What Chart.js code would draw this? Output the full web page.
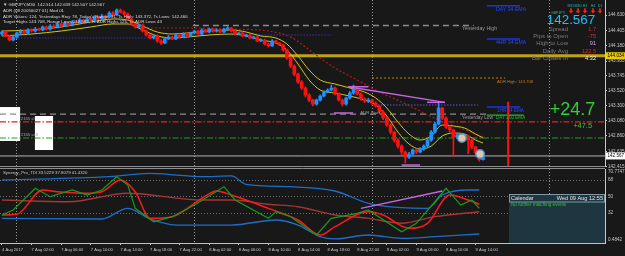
<!DOCTYPE html>
<html><head><meta charset="utf-8">
<script src="https://cdn.jsdelivr.net/npm/chart.js@4.4.0/dist/chart.umd.min.js"></script>
<style>
html,body{margin:0;padding:0;background:#181818;width:625px;height:256px;overflow:hidden}
#c1{position:absolute;left:0;top:0}
#c2{position:absolute;left:0;top:166px}
</style></head><body>
<canvas id="c1" width="625" height="172"></canvas>
<canvas id="c2" width="625" height="90"></canvas>
<script>
// ---------------- DATA ----------------
const timeLabels = ['4 Aug 2017','7 Aug 02:00','7 Aug 06:00','7 Aug 10:00','7 Aug 14:00','7 Aug 18:00','7 Aug 22:00','8 Aug 02:00','8 Aug 06:00','8 Aug 10:00','8 Aug 14:00','8 Aug 18:00','8 Aug 22:00','9 Aug 02:00','9 Aug 06:00','9 Aug 10:00','9 Aug 14:00'];
const timeLabelBars = [0,8,16,24,32,40,48,56,64,72,80,88,96,104,112,120,128];
const daySeparatorBars = [4,52,100,148];
const priceTicks = [144.630,144.405,144.180,143.955,143.745,143.520,143.300,143.080,142.860,142.635,142.415];

const opens = [144.352,144.381,144.323,144.264,144.308,144.367,144.396,144.367,144.411,144.396,
 144.425,144.411,144.455,144.425,144.469,144.455,144.499,144.469,144.513,144.484,
 144.528,144.513,144.557,144.528,144.572,144.557,144.601,144.572,144.616,144.601,
 144.660,144.630,144.704,144.674,144.645,144.572,144.499,144.455,144.484,144.396,
 144.338,144.294,144.323,144.250,144.220,144.279,144.308,144.279,144.338,144.308,
 144.352,144.323,144.367,144.396,144.352,144.411,144.381,144.425,144.396,144.411,
 144.381,144.425,144.440,144.396,144.352,144.367,144.323,144.338,144.294,144.308,
 144.250,144.264,144.206,144.177,144.250,144.220,144.191,144.118,144.001,143.884,
 143.767,143.649,143.562,143.459,143.386,143.327,143.386,143.444,143.503,143.532,
 143.562,143.474,143.386,143.327,143.415,143.488,143.547,143.474,143.401,143.371,
 143.386,143.342,143.298,143.210,143.122,143.020,142.917,142.800,142.712,142.625,
 142.551,142.595,142.654,142.625,142.668,142.712,142.800,142.917,143.034,143.269,
 143.122,142.991,142.947,142.844,142.873,142.830,142.859,142.800,142.698,142.610,
 142.514];
const highs = [144.40,144.40,144.34,144.33,144.38,144.42,144.41,144.43,144.43,144.45,
 144.44,144.47,144.47,144.49,144.49,144.52,144.51,144.53,144.53,144.55,
 144.55,144.58,144.57,144.59,144.59,144.62,144.61,144.64,144.63,144.68,
 144.68,144.72,144.72,144.69,144.66,144.59,144.51,144.50,144.50,144.41,
 144.35,144.34,144.34,144.27,144.30,144.33,144.32,144.35,144.35,144.37,
 144.37,144.38,144.41,144.41,144.43,144.42,144.44,144.44,144.43,144.42,
 144.44,144.46,144.45,144.41,144.38,144.38,144.35,144.35,144.32,144.32,
 144.28,144.28,144.22,144.27,144.26,144.23,144.20,144.13,144.02,143.90,
 143.78,143.67,143.58,143.48,143.40,143.40,143.46,143.52,143.55,143.606,
 143.58,143.49,143.40,143.43,143.51,143.606,143.56,143.49,143.42,143.41,
 143.40,143.36,143.31,143.23,143.14,143.04,142.93,142.82,142.73,142.64,
 142.62,142.67,142.67,142.69,142.73,142.82,142.94,143.06,143.357,143.28,
 143.14,143.01,142.96,142.89,142.89,142.88,142.87,142.82,142.71,142.63,
 142.639];
const lows = [144.33,144.31,144.25,144.25,144.29,144.35,144.35,144.35,144.38,144.38,
 144.40,144.40,144.41,144.41,144.44,144.44,144.45,144.46,144.47,144.47,
 144.50,144.50,144.51,144.52,144.54,144.54,144.56,144.56,144.58,144.59,
 144.61,144.62,144.66,144.63,144.56,144.48,144.44,144.44,144.38,144.32,
 144.28,144.28,144.23,144.20,144.21,144.27,144.27,144.27,144.29,144.30,
 144.31,144.31,144.35,144.34,144.34,144.37,144.37,144.38,144.38,144.37,
 144.37,144.41,144.38,144.34,144.34,144.31,144.31,144.28,144.28,144.24,
 144.24,144.19,144.16,144.17,144.21,144.18,144.10,143.98,143.86,143.74,
 143.63,143.54,143.43,143.36,143.30,143.31,143.37,143.43,143.49,143.52,
 143.46,143.37,143.30,143.31,143.40,143.47,143.46,143.38,143.35,143.35,
 143.32,143.28,143.19,143.10,143.00,142.89,142.77,142.68,142.58,142.463,
 142.53,142.58,142.60,142.61,142.65,142.70,142.78,142.90,143.02,143.10,
 142.97,142.92,142.56,142.82,142.80,142.81,142.60,142.67,142.59,142.49,
 142.507];
const closes = [144.381,144.323,144.264,144.308,144.367,144.396,144.367,144.411,144.396,144.425,
 144.411,144.455,144.425,144.469,144.455,144.499,144.469,144.513,144.484,144.528,
 144.513,144.557,144.528,144.572,144.557,144.601,144.572,144.616,144.601,144.660,
 144.630,144.704,144.674,144.645,144.572,144.499,144.455,144.484,144.396,144.338,
 144.294,144.323,144.250,144.220,144.279,144.308,144.279,144.338,144.308,144.352,
 144.323,144.367,144.396,144.352,144.411,144.381,144.425,144.396,144.411,144.381,
 144.425,144.440,144.396,144.352,144.367,144.323,144.338,144.294,144.308,144.250,
 144.264,144.206,144.177,144.250,144.220,144.191,144.118,144.001,143.884,143.767,
 143.649,143.562,143.459,143.386,143.327,143.386,143.444,143.503,143.532,143.562,
 143.474,143.386,143.327,143.415,143.488,143.547,143.474,143.401,143.371,143.386,
 143.342,143.298,143.210,143.122,143.020,142.917,142.800,142.712,142.625,142.551,
 142.595,142.654,142.625,142.668,142.712,142.800,142.917,143.034,143.269,143.122,
 142.991,142.947,142.844,142.873,142.830,142.859,142.800,142.698,142.610,142.514,
 142.567];

// moving averages: [bar, price]
const emaUpper = [[0,144.396],[8,144.411],[16,144.455],[24,144.528],[30,144.572],[34,144.557],[38,144.469],[42,144.381],[46,144.352],[50,144.367],[56,144.396],[62,144.411],[66,144.381],[70,144.323],[74,144.294],[77,144.206],[80,144.030],[83,143.825],[86,143.679],[90,143.620],[94,143.562],[98,143.503],[101,143.415],[104,143.269],[107,143.064],[110,142.888],[113,142.800],[116,142.859],[119,143.020],[122,143.005],[125,142.976],[128,142.888],[130,142.830]];
const emaLower = [[0,144.323],[8,144.352],[16,144.396],[24,144.455],[30,144.499],[34,144.499],[38,144.411],[42,144.323],[46,144.294],[50,144.308],[56,144.338],[62,144.352],[66,144.323],[70,144.264],[74,144.220],[77,144.118],[80,143.913],[83,143.679],[86,143.532],[90,143.488],[94,143.444],[98,143.386],[101,143.313],[104,143.152],[107,142.917],[110,142.742],[113,142.668],[116,142.712],[119,142.859],[122,142.903],[125,142.888],[128,142.800],[130,142.756]];
const slowMA = [[37,144.440],[50,144.440],[62,144.425],[72,144.396],[78,144.308],[82,144.162],[86,144.001],[90,143.854],[96,143.679],[102,143.503],[108,143.357],[114,143.196],[120,143.049],[126,142.932],[130,142.844]];

// levels
const goldLevel = 144.034, bidPrice = 142.567;
const yesterdayHigh = 144.477, yesterdayLow = 143.18;
const slLevel = 143.066, sellLevel = 142.83;
const adrHigh = 143.708, adrStartLevel = 143.313;
const pivotA = 144.294, pivotB = 144.338;
const day34 = 144.767, h4ema34 = 144.279, h1ema34 = 143.283, day200 = 143.166;
const redMarker = [[136.8,143.36],[136.8,142.42]];
const purpleTrend = [[93.5,143.58],[119.7,143.35]];
const purpleTop = [[93.5,143.58],[99,143.58]];
const purpleEnd = [[114.9,143.352],[119.7,143.352]];
const purpleLowA = [[89.7,143.196],[94.9,143.196]];
const purpleLowB = [[108,142.434],[113,142.434]];
const circleMarks = [[124.3,142.83],[129.2,142.595]];
const whiteBoxes = [[-0.6,4.9,143.283,142.786],[8.9,13.8,143.152,142.654]];

// TDI indicator [bar, value]
const tdiUpper = [[0,68],[29,71.6],[40,75.3],[45,74.2],[54,71.6],[62,72.4],[66,63.3],[78,60.7],[90,56],[99,42.6],[108,37.8],[115,37.1],[119,51.6],[126,57.1],[129,57.1]];
const tdiLower = [[0,26.2],[27,25.5],[34,37.1],[40,25.5],[47,18.9],[62,18.9],[74,24.4],[80,18.9],[86,6.2],[90,3.7],[99,8],[108,4.4],[117,6.2],[129,9.1]];
const tdiBase = [[0,46.2],[18,44.3],[34,53.5],[54,46.2],[62,46.2],[72,41.5],[80,38.9],[90,29.8],[99,26.2],[108,20.8],[117,28],[129,33.4]];
const tdiSignal = [[0,29.8],[4,30.6],[11,57.1],[15,55.2],[22,53.5],[27,55.2],[32,68],[36,55.2],[40,26.2],[46,28],[54,48],[58,56],[62,51.6],[72,37.1],[80,24.4],[86,8],[90,17.1],[99,33.4],[103,29.8],[110,15.3],[115,20.8],[121,51.6],[126,46.2],[129,41.5]];
const tdiPrice = [[0,29.8],[3,35.3],[9,58.9],[13,49.8],[19,57.1],[23,51.6],[27,57.1],[31,71.6],[34,62.5],[36,37.1],[41,22.5],[46,28],[52,40.7],[60,60.7],[63,46.2],[72,26.2],[74,33.4],[78,28],[85,8],[89,26.2],[96,31.6],[99,35.3],[108,11.6],[112,20.8],[117,44.3],[120,59],[124,40.7],[127,46.2],[129,37.1]];
const tdiTrend = [[97,37.1],[119,56]];
const tdiLevels = [68,50,32];
const tdiTickLabels = ['70.7747','68','50','32','0.4842'];

// ---------------- CHART ----------------
const FONT = "'Liberation Sans', Arial, sans-serif";
Chart.defaults.font.family = FONT;
Chart.defaults.color = '#c8c8c8';
const X_MIN = -0.54, X_MAX = 162.97;
const BULL = '#1e90ff', BEAR = '#ff1010';
const pts = a => a.map(p => ({x:p[0], y:p[1]}));
const line = (data, color, width, dash, order, extra) => Object.assign({type:'line', data, borderColor:color, borderWidth:width, borderDash:dash||[], pointRadius:0, fill:false, order:order, tension:0}, extra||{});
const hline = (price, x0, x1, color, width, dash, order) => line([{x:x0,y:price},{x:x1,y:price}], color, width, dash, order);
const candleColor = c => closes[c.dataIndex] >= opens[c.dataIndex] ? BULL : BEAR;
const noPad = s => { s.paddingTop = 0; s.paddingBottom = 0; s.paddingLeft = 0; s.paddingRight = 0; };

function txt(ctx, s, x, y, color, size, align, weight) {
  ctx.font = (weight || '') + ' ' + size + 'px ' + FONT;
  ctx.fillStyle = color; ctx.textAlign = align || 'left'; ctx.textBaseline = 'middle';
  ctx.fillText(s, x, y);
}

const anchoredTexts = [
  ['Yesterday High', 133.8, 144.425, '#9a9a9a', 5.2, 'right'],
  ['DAY 34 EMA', 133.5, 144.714, '#2a48ff', 5.2, 'left'],
  ['4HR 34 EMA', 133.5, 144.231, '#2a48ff', 5.2, 'left'],
  ['ADR High: 143.708', 133.8, 143.654, '#d07a10', 4.2, 'left'],
  ['1HR 34 EMA', 133.8, 143.229, '#2a48ff', 4.6, 'left'],
  ['DAY 200 EMA', 133.5, 143.122, '#22c022', 4.6, 'left'],
  ['Yesterday Low', 132.7, 143.122, '#9a9a9a', 4.8, 'right'],
  ['ADR Start', 96.8, 143.196, '#9a9a9a', 4.4, 'left'],
  ['2165 sl', 5.1, 143.108, '#a0a0a0', 4.2, 'left'],
  ['2165 sell', 5.1, 142.873, '#a0a0a0', 4.2, 'left']
];
const headerLines = ['\u25BC GBPJPY,M30  142.514 142.639 142.507 142.567', 'ADR (08 20050027 01) Mod 01', "ADR Values: 124, Yesterdays Rng: 78, Today's Range: 91, Ts High: 143.372, Ts Lows: 142.466", 'Target Highs 143.708, Range Lows 142.582, Ts ADR Highs 125, Ts ADR Lows 43'];
const tfNames = ['M15','M30','H1','H4','D1'];
const infoRows = [['Spread','1.7','#c83030'],['Pips to Open','-75','#e03030'],['High to Low','91','#d8a0e8'],['Daily Avg','122.5','#ff2020'],['Bar Closes In','4:32','#f0f0f0']];

const mainPlugin = {
  id: 'mainAnnot',
  beforeDatasetsDraw(chart) {
    const {ctx, scales:{x, y}} = chart;
    ctx.save();
    ctx.fillStyle = '#ffffff';
    for (const b of whiteBoxes) {
      const x0 = x.getPixelForValue(b[0]), x1 = x.getPixelForValue(b[1]);
      const y0 = y.getPixelForValue(b[2]), y1 = y.getPixelForValue(b[3]);
      ctx.fillRect(x0, y0, x1 - x0, y1 - y0);
    }
    ctx.restore();
  },
  afterDatasetsDraw(chart) {
    const {ctx, scales:{x, y}} = chart;
    ctx.save();
    for (const t of anchoredTexts) txt(ctx, t[0], x.getPixelForValue(t[1]), y.getPixelForValue(t[2]), t[3], t[4], t[5]);
    ctx.restore();
  },
  afterDraw(chart) {
    const {ctx, scales:{y}} = chart;
    ctx.save();
    const box = (v, bg) => {
      const py = y.getPixelForValue(v);
      ctx.fillStyle = bg; ctx.fillRect(y.left + 1, py - 3.5, 19, 7);
      txt(ctx, v.toFixed(3), y.left + 2.5, py, '#000000', 4.6, 'left');
    };
    box(goldLevel, '#e8c800'); box(bidPrice, '#ffffff');
    const hy = [5, 11, 16.5, 22];
    headerLines.forEach((s, i) => txt(ctx, s, 3, hy[i], '#d8d8d8', 4.4, 'left'));
    const ax = [571, 578, 585, 593, 600];
    tfNames.forEach((n, i) => txt(ctx, n, ax[i], 5.5, '#20b8a8', 3.6, 'center'));
    ctx.fillStyle = '#ff2020';
    ax.forEach(a => { ctx.beginPath(); ctx.moveTo(a-0.8,8.3); ctx.lineTo(a+0.8,8.3); ctx.lineTo(a+0.8,10.8); ctx.lineTo(a+2.3,10.8); ctx.lineTo(a,13.6); ctx.lineTo(a-2.3,10.8); ctx.lineTo(a-0.8,10.8); ctx.closePath(); ctx.fill(); });
    txt(ctx, 'GBPJPY', 558, 13, '#20b8a8', 3.6, 'center');
    txt(ctx, '142.567', 571, 20.5, '#22bff5', 13.4, 'center');
    const ry = [29, 36.2, 43.5, 51, 58];
    infoRows.forEach((r, i) => { txt(ctx, r[0], 568, ry[i], '#7c7c7c', 6, 'right'); txt(ctx, r[1], 596, ry[i], r[2], 5.6, 'right'); });
    txt(ctx, '+24.7', 572.5, 110.5, '#32cd32', 18, 'center');
    txt(ctx, '+47.5', 592, 125.5, '#32cd32', 7.4, 'right');
    ctx.restore();
  }
};

const candleWicks = highs.map((h, i) => ({x:i, y:[lows[i], h]}));
const candleBodies = opens.map((o, i) => ({x:i, y:[o, closes[i]]}));

new Chart(document.getElementById('c1'), {
  type: 'bar',
  data: { datasets: [
    {type:'line', showLine:false, data:pts(circleMarks), pointRadius:4.3, pointBackgroundColor:'#d9c9aa', pointBorderColor:'#5a8fc8', pointBorderWidth:1.5, order:1},
    line(pts(redMarker), '#ff1010', 2, [], 2),
    line(pts(purpleTrend), '#c864e6', 1.3, [], 3),
    line(pts(purpleTop), '#c864e6', 1.5, [], 3),
    line(pts(purpleEnd), '#c864e6', 1.5, [], 3),
    line(pts(purpleLowA), '#c864e6', 1.5, [], 3),
    line(pts(purpleLowB), '#c864e6', 1.5, [], 3),
    {type:'bar', data:candleBodies, backgroundColor:candleColor, barThickness:3, grouped:false, minBarLength:1, order:4},
    {type:'bar', data:candleWicks, backgroundColor:candleColor, barThickness:1, grouped:false, order:5},
    line(pts(emaUpper), '#d4c81e', 1, [], 6, {cubicInterpolationMode:'monotone'}),
    line(pts(emaLower), '#d4c81e', 1, [], 6, {cubicInterpolationMode:'monotone'}),
    line(pts(slowMA), '#b01c1c', 1.2, [2,2], 7, {cubicInterpolationMode:'monotone'}),
    hline(goldLevel, X_MIN, X_MAX, '#bfa21a', 3, [], 9),
    hline(yesterdayHigh, 51.6, 127.5, '#8c8c8c', 1.3, [6,4], 9),
    hline(yesterdayLow, X_MIN, 131, '#8c8c8c', 1.3, [6,4], 9),
    hline(slLevel, X_MIN, X_MAX, '#e02020', 1.2, [6,2,1.5,2], 9),
    hline(sellLevel, X_MIN, X_MAX, '#22a022', 1.2, [6,2,1.5,2], 9),
    hline(bidPrice, X_MIN, X_MAX, '#b4b4b4', 1, [], 9),
    hline(adrHigh, 100, 136, '#d08010', 1, [2,2], 9),
    hline(adrStartLevel, 100, 128.6, '#5858d0', 1, [1.5,1.5], 9),
    hline(pivotA, 3.5, 50, '#3434b0', 1, [1.5,1.5], 9),
    hline(pivotB, 62, 89, '#3434b0', 1, [1.5,1.5], 9),
    hline(day34, 131, 140, '#1a34e8', 1.5, [], 9),
    hline(h4ema34, 131, 140, '#1a34e8', 1.5, [], 9),
    hline(h1ema34, 131, 140, '#1a34e8', 1.5, [], 9),
    hline(day200, 131, 141, '#22b022', 1.2, [], 9)
  ]},
  options: {
    responsive:false, animation:false, events:[],
    layout:{autoPadding:false, padding:{top:0, left:0, right:0, bottom:6}},
    plugins:{legend:{display:false}, tooltip:{enabled:false}},
    scales:{
      x:{type:'linear', min:X_MIN, max:X_MAX, offset:false,
        afterBuildTicks: s => { s.ticks = daySeparatorBars.map(v => ({value:v})); },
        afterFit: s => { s.height = 0; noPad(s); },
        ticks:{display:false},
        grid:{color:'#9a9a9a', lineWidth:1, drawTicks:false, offset:false, borderDash:[1,2]},
        border:{display:false, dash:[1,2]}},
      y:{type:'linear', position:'right', min:142.42, max:144.85,
        afterBuildTicks: s => { s.ticks = priceTicks.map(v => ({value:v})); },
        afterFit: s => { s.width = 20; noPad(s); },
        ticks:{callback: v => v.toFixed(3), font:{size:4.6}, color:'#c8c8c8', padding:1, autoSkip:false},
        grid:{drawOnChartArea:false, drawTicks:true, tickLength:2, color:'#c0c0c0'},
        border:{display:true, color:'#c8c8c8', width:1}}
    }
  },
  plugins:[mainPlugin]
});

const tdiPlugin = {
  id: 'tdiAnnot',
  afterDraw(chart) {
    const {ctx, chartArea} = chart;
    ctx.save();
    ctx.strokeStyle = '#8c8c8c'; ctx.lineWidth = 1;
    ctx.beginPath(); ctx.moveTo(0, 0.5); ctx.lineTo(chartArea.right, 0.5); ctx.moveTo(0, 2.5); ctx.lineTo(chartArea.right, 2.5); ctx.stroke();
    txt(ctx, 'Synergy_Pro_TDI 33.5229 37.8079 41.4320', 3, 7.3, '#c8c8c8', 4.3, 'left');
    ctx.fillStyle = '#1d3640'; ctx.fillRect(509, 28, 96, 49);
    ctx.strokeStyle = '#7f9aa6'; ctx.strokeRect(509.5, 28.5, 95, 7.5);
    txt(ctx, 'Calendar', 511, 32.3, '#e4e4e4', 5.6, 'left');
    txt(ctx, 'Wed 09 Aug 12:55', 603, 32.3, '#e4e4e4', 5.6, 'right');
    txt(ctx, 'No further matching events', 511, 38.5, '#28c828', 4.6, 'left');
    ctx.restore();
  }
};

new Chart(document.getElementById('c2'), {
  type: 'line',
  data: { datasets: [
    line(pts(tdiTrend), '#c864e6', 1.3, [], 1),
    line(pts(tdiPrice), '#1c9a1c', 1.2, [], 2),
    line(pts(tdiSignal), '#ff1a1a', 1.5, [], 3, {cubicInterpolationMode:'monotone'}),
    line(pts(tdiBase), '#a83434', 1.4, [], 4, {cubicInterpolationMode:'monotone'}),
    line(pts(tdiUpper), '#1e6ec8', 1.3, [], 5, {cubicInterpolationMode:'monotone'}),
    line(pts(tdiLower), '#1e6ec8', 1.3, [], 5, {cubicInterpolationMode:'monotone'})
  ]},
  options: {
    responsive:false, animation:false, events:[],
    layout:{autoPadding:false, padding:{top:3, left:0, right:0, bottom:0}},
    plugins:{legend:{display:false}, tooltip:{enabled:false}},
    scales:{
      x:{type:'linear', position:'bottom', min:X_MIN, max:X_MAX, offset:false,
        afterBuildTicks: s => { s.ticks = timeLabelBars.map(v => ({value:v})); },
        afterFit: s => { s.height = 13; noPad(s); },
        ticks:{autoSkip:false, maxRotation:0, minRotation:0, align:'start', callback:(v, i) => timeLabels[i], font:{size:4.1}, color:'#c8c8c8', padding:2},
        grid:{drawOnChartArea:false, drawTicks:true, tickLength:2, color:'#c0c0c0'},
        border:{display:true, color:'#c0c0c0'}},
      xg:{type:'linear', position:'bottom', min:X_MIN, max:X_MAX, offset:false,
        afterBuildTicks: s => { s.ticks = daySeparatorBars.map(v => ({value:v})); },
        afterFit: s => { s.height = 0; noPad(s); },
        ticks:{display:false},
        grid:{color:'#9a9a9a', drawTicks:false, borderDash:[1,2]},
        border:{display:false, dash:[1,2]}},
      y:{type:'linear', position:'right', min:-0.7, max:80,
        afterBuildTicks: s => { s.ticks = [77.3, 68, 50, 32, 2.6].map(v => ({value:v})); },
        afterFit: s => { s.width = 20; noPad(s); },
        ticks:{callback:(v, i) => tdiTickLabels[i], font:{size:4.6}, color:'#c8c8c8', padding:3, autoSkip:false},
        grid:{color: c => (c.tick && tdiLevels.includes(c.tick.value)) ? '#6c6c6c' : 'rgba(0,0,0,0)', drawTicks:false, borderDash:[1,2]},
        border:{display:true, color:'#c8c8c8', dash:[1,2]}}
    }
  },
  plugins:[tdiPlugin]
});
</script>
</body></html>
